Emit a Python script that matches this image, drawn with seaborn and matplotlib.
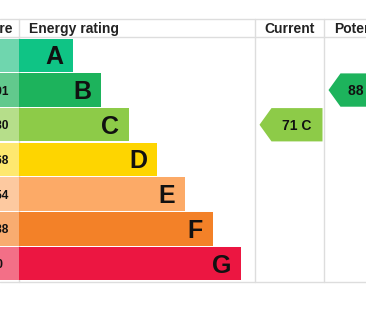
import matplotlib
matplotlib.use("Agg")
import matplotlib.pyplot as plt
import seaborn as sns
import pandas as pd
from matplotlib.patches import Polygon

# ---- data ----
ratings = ["A", "B", "C", "D", "E", "F", "G"]
score_ranges = ["92+", "81-91", "69-80", "55-68", "39-54", "21-38", "1-20"]
range_low = [92, 81, 69, 55, 39, 21, 1]
bar_colors = ["#0fc485", "#1db35c", "#8dcb48", "#fed500", "#fcaa67", "#f38128", "#ec1641"]
score_colors = ["#6fd6ae", "#62c98d", "#b6de8a", "#fee86f", "#fdc9a0", "#f8ac70", "#f36f87"]
current_score = 71
potential_score = 88
headers = ["Score", "Energy rating", "Current", "Potential"]

sns.set_theme(style="white")
plt.rcParams['font.family'] = ['Liberation Sans', 'DejaVu Sans']

W, H = 366, 311
fig = plt.figure(figsize=(W / 100, H / 100), dpi=100)
ax = fig.add_axes([0, 0, 1, 1])

# layout (pixels)
X0 = 19            # start of rating column
ROW_TOP = 38
ROW_H = 34.7
COL_CUR = 255
COL_POT = 324
HEAD_TOP = 19
HEAD_BOT = 37
BOTTOM = 282
BAR_W = 0.96


def px(p):
    return p - X0


def py(p):
    return (p - ROW_TOP) / ROW_H - 0.5


def rating_of(score):
    for i, lo in enumerate(range_low):
        if score >= lo:
            return i
    return len(ratings) - 1


df = pd.DataFrame({
    "rating": ratings,
    "length": [54 + 28 * i for i in range(len(ratings))],
    "score_cell": [px(-40)] * len(ratings),
})

# score column cells (extend left of the rating column)
sns.barplot(data=df, x="score_cell", y="rating", hue="rating", palette=score_colors,
            orient="h", width=BAR_W, saturation=1, legend=False, linewidth=0, ax=ax)
# rating bars
sns.barplot(data=df, x="length", y="rating", hue="rating", palette=bar_colors,
            orient="h", width=BAR_W, saturation=1, legend=False, linewidth=0, ax=ax)

for i, (r, L) in enumerate(zip(ratings, df["length"])):
    ax.text(L - 10, i + 0.26, r, ha="right", va="baseline", fontsize=18,
            fontweight="bold", color="#111111")
    ax.text(px(-21), i + 0.13, score_ranges[i], ha="left", va="baseline",
            fontsize=8.6, fontweight="bold", color="#111111")

# grid lines
gc = "#dddddd"
for yy in (HEAD_TOP, HEAD_BOT, BOTTOM):
    ax.plot([px(0), px(W)], [py(yy), py(yy)], color=gc, lw=1, zorder=0.5)
for xx in (X0, COL_CUR, COL_POT):
    ax.plot([px(xx), px(xx)], [py(HEAD_TOP), py(BOTTOM)], color=gc, lw=1, zorder=0.5)

# headers
hy = py(33)
ax.text(px(13), hy, headers[0], ha="right", va="baseline", fontsize=10, fontweight="bold", color="#222222")
ax.text(px(29), hy, headers[1], ha="left", va="baseline", fontsize=10, fontweight="bold", color="#222222")
ax.text(px((COL_CUR + COL_POT) / 2), hy, headers[2], ha="center", va="baseline", fontsize=10,
        fontweight="bold", color="#222222")
ax.text(px(334), hy, headers[3], ha="left", va="baseline", fontsize=10, fontweight="bold", color="#222222")


def arrow(col_left, score, label, text_off):
    i = rating_of(score)
    tip = col_left + 4.5
    depth = 12
    body = 51
    half = BAR_W / 2
    pts = [(px(tip), i), (px(tip + depth), i - half), (px(tip + depth + body), i - half),
           (px(tip + depth + body), i + half), (px(tip + depth), i + half)]
    ax.add_patch(Polygon(pts, closed=True, facecolor=bar_colors[i], edgecolor="none", zorder=3))
    ax.text(px(tip + text_off), i + 0.15, label, ha="center", va="baseline", fontsize=10,
            fontweight="bold", color="#111111", zorder=4)


arrow(COL_CUR, current_score, f"{current_score} {ratings[rating_of(current_score)]}", 37)
arrow(COL_POT, potential_score, f"{potential_score} {ratings[rating_of(potential_score)]}", 34)

ax.set_xlim(px(0), px(W))
ax.set_ylim(py(H), py(0))
ax.axis("off")
fig.savefig("out.png", dpi=100)
